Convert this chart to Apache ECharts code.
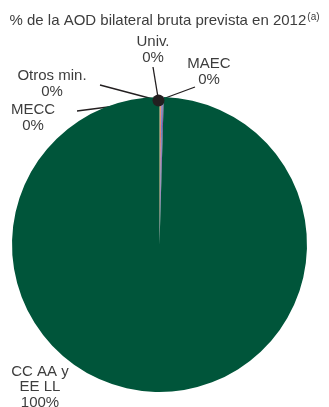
<!DOCTYPE html>
<html lang="es">
<head>
    <meta charset="UTF-8">
    <title>AOD bilateral bruta 2012</title>
    <script src="https://cdn.jsdelivr.net/npm/echarts@6/dist/echarts.min.js"></script>
    <style>
        html, body { margin: 0; padding: 0; background: #fff; }
        #chart { width: 329px; height: 407px; }
    </style>
</head>
<body>
<div id="chart"></div>
<script type="text/javascript">
    // datos: % de la AOD bilateral bruta prevista en 2012
    var names = ['MAEC', 'Univ.', 'Otros min.', 'MECC', 'CC AA y\nEE LL'];
    var values = [0.12, 0.1, 0.12, 0.12, 99.54];
    var colors = ['#e9a23b', '#d9534f', '#4f7fc2', '#7d4fa1', '#00553a'];

    // posiciones de las etiquetas (centro del texto)
    var labelPos = {
        'MAEC': [209, 72],
        'Univ.': [153, 50],
        'Otros min.': [52, 84],
        'MECC': [33, 118],
        'CC AA y\nEE LL': [40, 387]
    };
    // punto donde arrancan las guías
    var lineStart = {
        'MAEC': [195, 87],
        'Univ.': [153, 67],
        'Otros min.': [100, 85],
        'MECC': [77, 111]
    };

    var cx = 159.5, cy = 244.5, r = 147.5;
    var dot = [cx - 1, cy - r + 3.5];

    var chart = echarts.init(document.getElementById('chart'));

    var data = names.map(function (n, i) {
        return { name: n, value: values[i], itemStyle: { color: colors[i] } };
    });

    chart.setOption({
        backgroundColor: '#fff',
        animation: false,
        title: {
            text: '% de la AOD bilateral bruta prevista en 2012{sup|(a)}',
            left: 'center',
            top: 7,
            textStyle: {
                fontFamily: 'Liberation Sans',
                fontSize: 15,
                fontWeight: 'normal',
                color: '#3d3d3d',
                rich: {
                    sup: { fontSize: 10, color: '#3d3d3d', verticalAlign: 'top', padding: [0, 0, 8, 1] }
                }
            }
        },
        series: [{
            type: 'pie',
            center: [cx, cy],
            radius: r,
            startAngle: 90,
            silent: true,
            avoidLabelOverlap: false,
            data: data,
            label: {
                show: true,
                fontFamily: 'Liberation Sans',
                fontSize: 15,
                lineHeight: 15.5,
                color: '#3d3d3d',
                align: 'center',
                overflow: 'none',
                formatter: function (p) {
                    return p.name + '\n' + Math.round(p.percent) + '%';
                }
            },
            labelLine: {
                show: true,
                lineStyle: { color: '#231f20', width: 1.3 }
            },
            labelLayout: function (params) {
                var name = names[params.dataIndex];
                var pos = labelPos[name];
                var res = {
                    x: pos[0],
                    y: pos[1],
                    align: 'center',
                    verticalAlign: 'middle',
                    hideOverlap: false,
                    moveOverlap: false
                };
                if (lineStart[name]) {
                    var s = lineStart[name];
                    res.labelLinePoints = [dot, [(dot[0] + s[0]) / 2, (dot[1] + s[1]) / 2], s];
                } else {
                    res.labelLinePoints = [[pos[0], pos[1]], [pos[0], pos[1]], [pos[0], pos[1]]];
                }
                return res;
            }
        }],
        graphic: [{
            type: 'circle',
            shape: { cx: dot[0], cy: dot[1], r: 6 },
            style: { fill: '#231f20' },
            z: 100
        }]
    });
</script>
</body>
</html>
